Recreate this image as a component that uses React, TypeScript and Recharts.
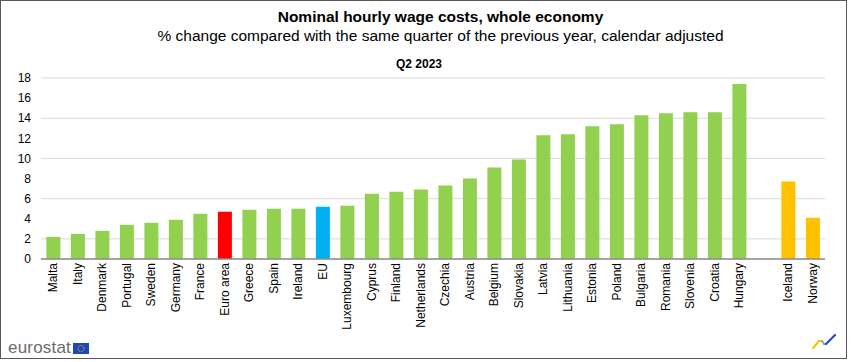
import { Bar, BarChart, CartesianGrid, Cell, XAxis, YAxis } from "recharts";

const countries = [
  "Malta", "Italy", "Denmark", "Portugal", "Sweden", "Germany", "France", "Euro area",
  "Greece", "Spain", "Ireland", "EU", "Luxembourg", "Cyprus", "Finland", "Netherlands",
  "Czechia", "Austria", "Belgium", "Slovakia", "Latvia", "Lithuania", "Estonia", "Poland",
  "Bulgaria", "Romania", "Slovenia", "Croatia", "Hungary", "", "Iceland", "Norway",
];

const wageChange: (number | null)[] = [
  2.2, 2.5, 2.8, 3.4, 3.6, 3.9, 4.5, 4.7,
  4.9, 5.0, 5.0, 5.2, 5.3, 6.5, 6.7, 6.9,
  7.3, 8.0, 9.1, 9.9, 12.3, 12.4, 13.2, 13.4,
  14.3, 14.5, 14.6, 14.6, 17.4, null, 7.7, 4.1,
];

const yTicks = [0, 2, 4, 6, 8, 10, 12, 14, 16, 18];

const GREEN = "#92d050";
const colorFor = (name: string) => {
  if (name === "Euro area") return "#ff0000";
  if (name === "EU") return "#00b0f0";
  if (name === "Iceland" || name === "Norway") return "#ffc000";
  return GREEN;
};

const FONT = "'Liberation Sans', Arial, sans-serif";

const data = countries.map((name, i) => ({ name, value: wageChange[i] }));

// rotated country names, read bottom-to-top like the original
function CountryTick(props: any) {
  const { x, y, payload } = props;
  if (!payload.value) return null;
  return (
    <text
      x={x}
      y={y}
      transform={`rotate(-90 ${x} ${y})`}
      textAnchor="end"
      dy="0.35em"
      fontSize={12}
      fontFamily={FONT}
      fill="#000"
    >
      {payload.value}
    </text>
  );
}

export default function App() {
  return (
    <div style={{ position: "relative", width: 851, height: 362, background: "#fff", fontFamily: FONT }}>
      <style>{"body{margin:0}"}</style>
      <div
        style={{
          position: "absolute",
          left: 0,
          top: 0,
          width: 847,
          height: 359,
          border: "1.5px solid #595959",
          boxSizing: "border-box",
        }}
      />
      <div style={{ position: "absolute", left: 0, width: 881, top: 8, textAlign: "center", fontSize: 15.5, fontWeight: "bold", color: "#000" }}>
        Nominal hourly wage costs, whole economy
      </div>
      <div style={{ position: "absolute", left: 0, width: 881, top: 27, textAlign: "center", fontSize: 15.5, color: "#000" }}>
        % change compared with the same quarter of the previous year, calendar adjusted
      </div>
      <div style={{ position: "absolute", left: 0, width: 838, top: 57, textAlign: "center", fontSize: 12, fontWeight: "bold", color: "#000" }}>
        Q2 2023
      </div>

      <div style={{ position: "absolute", left: 0, top: 0 }}>
        <BarChart
          width={851}
          height={362}
          data={data}
          margin={{ top: 78, right: 26, left: 0, bottom: 0 }}
          barCategoryGap="22%"
        >
          <CartesianGrid vertical={false} stroke="#d9d9d9" />
          <XAxis
            dataKey="name"
            interval={0}
            height={103}
            tickLine={false}
            tickSize={0}
            tickMargin={4}
            axisLine={{ stroke: "#8c8c8c", strokeWidth: 1.5 }}
            tick={<CountryTick />}
          />
          <YAxis
            width={41}
            domain={[0, 18]}
            ticks={yTicks}
            axisLine={false}
            tickLine={false}
            tickMargin={4}
            tick={{ fontSize: 12, fill: "#000", fontFamily: FONT }}
          />
          <Bar dataKey="value" isAnimationActive={false}>
            {data.map((d) => (
              <Cell key={d.name || "gap"} fill={colorFor(d.name)} />
            ))}
          </Bar>
        </BarChart>
      </div>

      {/* eurostat logo, bottom left */}
      <div style={{ position: "absolute", left: 8, top: 338, fontSize: 17, color: "#6b6b6b", letterSpacing: 0.2 }}>
        eurostat
      </div>
      <svg style={{ position: "absolute", left: 73, top: 343 }} width={16} height={11}>
        <rect x={0} y={0} width={16} height={11} fill="#1f47b8" />
        <circle cx={8} cy={5.5} r={3} fill="none" stroke="#ffdd00" strokeWidth={0.9} strokeDasharray="1 0.9" />
      </svg>

      {/* small mark, bottom right */}
      <svg style={{ position: "absolute", left: 810, top: 332 }} width={30} height={20}>
        <polyline points="3,16 9,9 12,9" fill="none" stroke="#f5c400" strokeWidth={2} strokeLinecap="round" />
        <polyline points="12,9 14,12 16,12" fill="none" stroke="#a0a0a0" strokeWidth={2} strokeLinecap="round" />
        <polyline points="16,12 25,3" fill="none" stroke="#1f47d0" strokeWidth={2.2} strokeLinecap="round" />
      </svg>
    </div>
  );
}
